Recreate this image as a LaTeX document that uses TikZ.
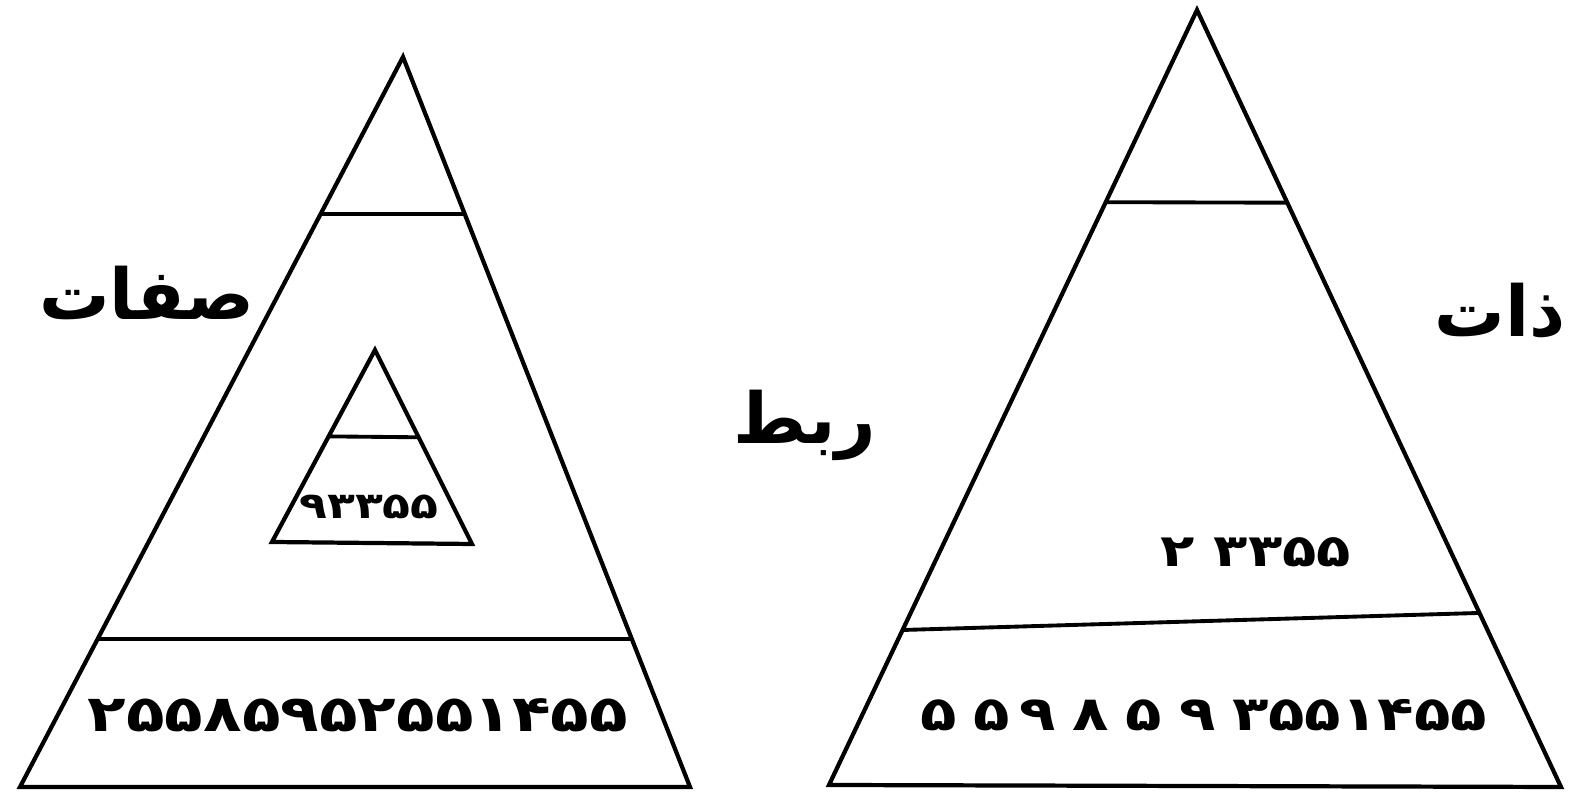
\documentclass[tikz,border=0pt]{standalone}
\usepackage{fontspec}
\usepackage{tikz}
\usetikzlibrary{calc}
\TeXXeTstate=1
\newfontfamily\arabicfont[Script=Arabic]{DejaVu Sans}
\newfontfamily\digitfont{DejaVu Sans}
\tikzset{
	edgeline/.style={line width=1.2pt, line join=miter},
	cutline/.style={line width=1.1pt},
	wordtext/.style={font=\arabicfont\bfseries\fontsize{20}{22}\selectfont, inner sep=0pt},
	numtext/.style={inner sep=0pt, yscale=0.8, transform shape}
}

\begin{document}
\begin{tikzpicture}
      \useasboundingbox (0,0) rectangle (15.81,7.97);
      % left pyramid
      \coordinate (la) at (4.03,7.40);
      \coordinate (lb) at (0.20,0.10);
      \coordinate (lc) at (6.90,0.10);
      \draw[edgeline] (la) -- (lb) -- (lc) -- cycle;
      \draw[cutline] ($(la)!0.215!(lb)$) -- ($(la)!0.215!(lc)$);
      \draw[cutline] ($(la)!0.797!(lb)$) -- ($(la)!0.797!(lc)$);
      % small pyramid inside
      \coordinate (ia) at (3.75,4.47);
      \coordinate (ib) at (2.72,2.55);
      \coordinate (ic) at (4.72,2.53);
      \draw[edgeline] (ia) -- (ib) -- (ic) -- cycle;
      \draw[cutline] ($(ia)!0.45!(ib)$) -- ($(ia)!0.45!(ic)$);
      % right pyramid
      \coordinate (ra) at (11.97,7.87);
      \coordinate (rb) at (8.29,0.12);
      \coordinate (rc) at (15.61,0.10);
      \draw[edgeline] (ra) -- (rb) -- (rc) -- cycle;
      \draw[cutline] ($(ra)!0.248!(rb)$) -- ($(ra)!0.248!(rc)$);
      \draw[cutline] ($(ra)!0.80!(rb)$) -- ($(ra)!0.776!(rc)$);
      % words
      \node[wordtext] (sifat) at (1.47,5.04) {\beginR صفات\endR};
      \node[wordtext] (zat) at (15.00,4.86) {\beginR ذات\endR};
      \node[wordtext] (rabt) at (8.05,3.72) {\beginR ربط\endR};
      % numbers
      \node[numtext, font=\digitfont\bfseries\fontsize{13}{15}\selectfont] (innernum) at (3.69,2.90) {۹۳۳۵۵};
      \node[numtext, font=\digitfont\bfseries\fontsize{16}{18}\selectfont] (midnum) at (12.56,2.45) {۲\,\,۳۳۵۵};
      \node[numtext, font=\digitfont\bfseries\fontsize{18}{20}\selectfont] (leftnum) at (3.58,0.82) {۲۵۵۸۵۹۵۲۵۵۱۴۵۵};
      \node[numtext, font=\digitfont\bfseries\fontsize{17}{19}\selectfont] (rightnum) at (12.04,0.82) {۵\;۵\,۹\;۸\;۵\;۹\;۳۵۵۱۴۵۵};
\end{tikzpicture}
\end{document}
